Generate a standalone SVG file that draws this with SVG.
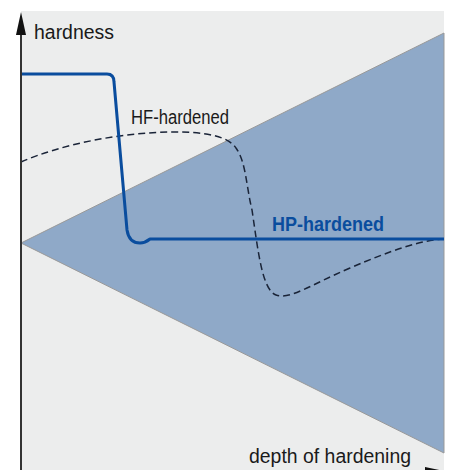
<svg xmlns="http://www.w3.org/2000/svg" width="452" height="470" viewBox="0 0 452 470">
<style>
text{font-family:"Liberation Sans Narrow","Liberation Sans",Arial,sans-serif;font-size:20px;fill:#1a1a1a}
.hp{fill:#0a4d9e;font-weight:bold}
.axis{stroke:#333;stroke-width:2;fill:none}
.solid{stroke:#0a4d9e;stroke-width:3;fill:none;stroke-linejoin:round}
.dash{stroke:#1a2438;stroke-width:1.5;fill:none;stroke-dasharray:7 4}
</style>
<rect id="background" x="21" y="11" width="423" height="459" fill="#eceded"/>
<polygon id="zone" points="21,243 444,33 444,453" fill="#8fa9c8" stroke="#999" stroke-width="1"/>
<g id="curves">
<path class="dash" d="M21,162 C60,145 120,132 175,132 C205,132 228,136 236,148 C246,162 246,185 252,210 C258,250 262,290 276,295 C290,300 310,285 350,268 C390,251 420,240 444,239"/>
<path class="solid" d="M21,74 H107 Q114,74 114,82 L127,230 Q129,243 140,243 Q145,243 150,239 H444"/>
</g>
<g id="axes">
<line class="axis" x1="21" y1="30" x2="21" y2="470"/>
<polygon points="21,12 16,35 26,35" fill="#111"/>
<polygon points="425,467 444,471 425,475" fill="#111"/>
</g>
<g id="labels">
<text x="34" y="39" textLength="80" lengthAdjust="spacingAndGlyphs">hardness</text>
<text x="131" y="124" textLength="98" lengthAdjust="spacingAndGlyphs">HF-hardened</text>
<text class="hp" x="272" y="231" textLength="112" lengthAdjust="spacingAndGlyphs">HP-hardened</text>
<text x="249" y="463" textLength="162" lengthAdjust="spacingAndGlyphs">depth of hardening</text>
</g>
</svg>
